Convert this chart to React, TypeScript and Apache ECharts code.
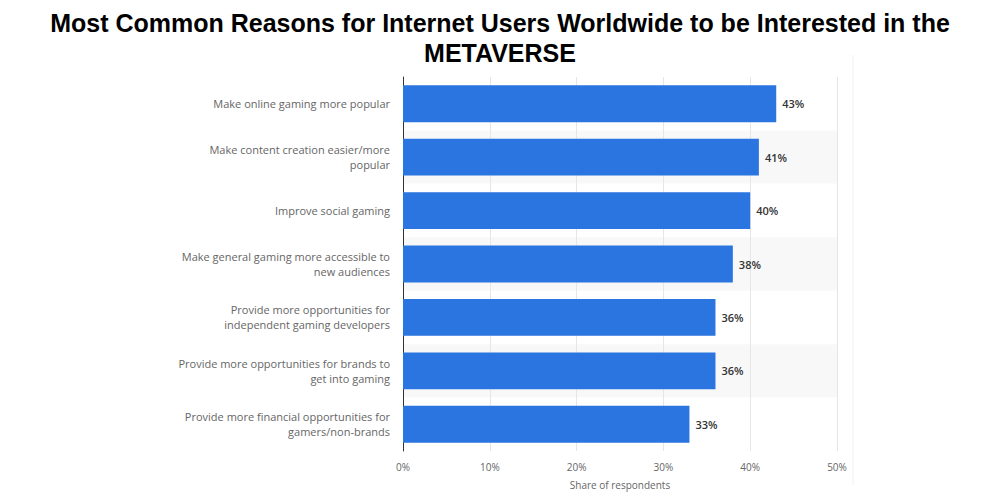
import React, { useEffect, useRef } from "react";
import * as echarts from "echarts";

const titleLines = [
  "Most Common Reasons for Internet Users Worldwide to be Interested in the",
  "METAVERSE",
];

const categories = [
  "Make online gaming more popular",
  "Make content creation easier/more\npopular",
  "Improve social gaming",
  "Make general gaming more accessible to\nnew audiences",
  "Provide more opportunities for\nindependent gaming developers",
  "Provide more opportunities for brands to\nget into gaming",
  "Provide more financial opportunities for\ngamers/non-brands",
];

const shares = [43, 41, 40, 38, 36, 36, 33];

const xTicks = [0, 10, 20, 30, 40, 50];
const xAxisName = "Share of respondents";

export default function App() {
  const ref = useRef<HTMLDivElement>(null);
  useEffect(() => {
    if (!ref.current) return;
    const chart = echarts.init(ref.current, undefined, { renderer: "svg" });
    chart.setOption({
      animation: false,
      backgroundColor: "#ffffff",
      title: {
        text: titleLines.join("\n"),
        left: "center",
        top: 3,
        textStyle: {
          fontFamily: "Liberation Sans, Arial, sans-serif",
          fontWeight: "bold",
          fontSize: 25,
          lineHeight: 30,
          color: "#000000",
        },
      },
      grid: { left: 403, right: 163, top: 77, bottom: 49, containLabel: false },
      xAxis: {
        type: "value",
        min: xTicks[0],
        max: xTicks[xTicks.length - 1],
        interval: 10,
        axisLine: { show: false },
        axisTick: { show: false },
        splitLine: { show: true, lineStyle: { color: "#e6e6e6", width: 1 } },
        axisLabel: {
          formatter: "{value}%",
          color: "#666666",
          fontSize: 10,
          fontFamily: "Open Sans, sans-serif",
          margin: 11,
        },
        name: xAxisName,
        nameLocation: "middle",
        nameGap: 29,
        nameTextStyle: {
          color: "#666666",
          fontSize: 10,
          fontFamily: "Open Sans, sans-serif",
        },
      },
      yAxis: {
        type: "category",
        data: categories,
        inverse: true,
        axisLine: { show: true, lineStyle: { color: "#333333", width: 1 } },
        axisTick: { show: false },
        splitArea: { show: true, areaStyle: { color: ["#ffffff", "#f8f8f8"] } },
        axisLabel: {
          color: "#666666",
          fontSize: 11,
          lineHeight: 15,
          fontFamily: "Open Sans, sans-serif",
          margin: 13,
          align: "right",
        },
      },
      series: [
        {
          type: "bar",
          data: shares,
          barCategoryGap: "31%",
          itemStyle: { color: "#2a75e0" },
          label: {
            show: true,
            position: "right",
            distance: 6,
            formatter: "{c}%",
            color: "#333333",
            fontSize: 11,
            fontWeight: 600,
            fontFamily: "Open Sans, sans-serif",
          },
        },
      ],
      graphic: [
        {
          type: "line",
          shape: { x1: 853, y1: 55, x2: 853, y2: 485 },
          style: { stroke: "#f0f0f0", lineWidth: 1 },
        },
      ],
    });
    return () => chart.dispose();
  }, []);
  return <div ref={ref} style={{ width: 1000, height: 500, margin: -8 }} />;
}
